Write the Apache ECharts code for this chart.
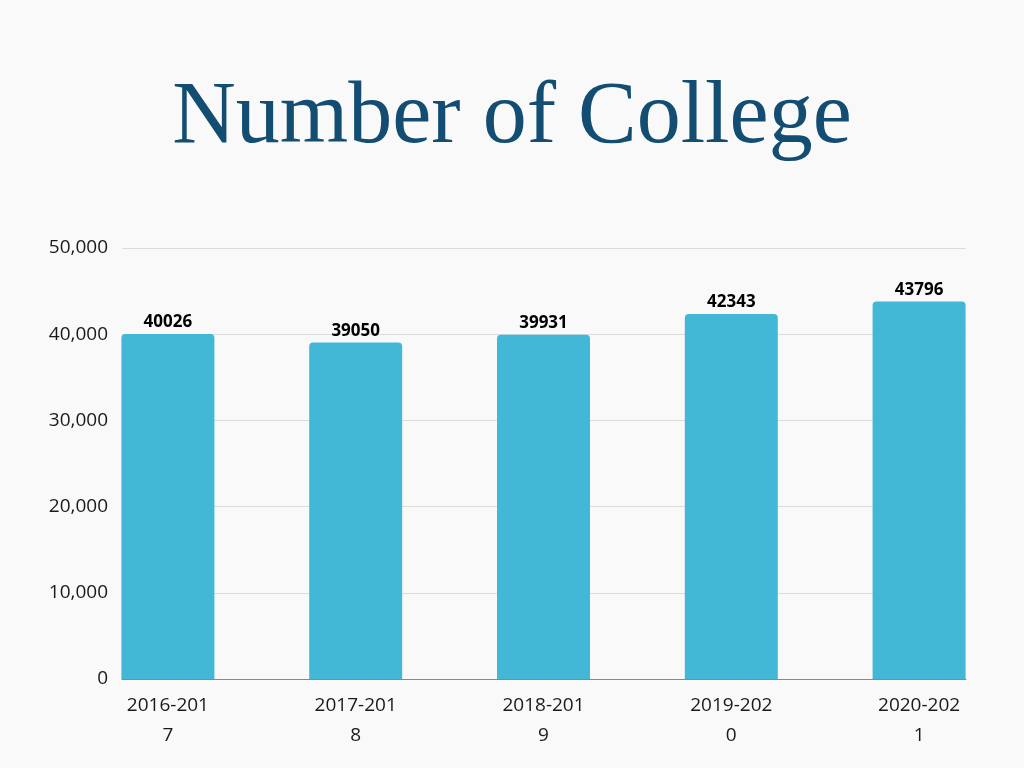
<!DOCTYPE html>
<html lang="en">
<head>
<meta charset="UTF-8">
<title>Number of College</title>
<style>
    html, body { margin: 0; padding: 0; background: #f9f9f9; }
    #app { width: 1024px; height: 768px; }
</style>
</head>
<body>
<div id="app"></div>
<script src="https://cdn.jsdelivr.net/npm/echarts@6/dist/echarts.min.js"></script>
<script>
var categories = ['2016-2017', '2017-2018', '2018-2019', '2019-2020', '2020-2021'];
var values = [40026, 39050, 39931, 42343, 43796];

var chart = echarts.init(document.getElementById('app'));
var option = {
    backgroundColor: '#f9f9f9',
    title: {
        text: 'Number of College',
        left: 'center',
        top: 70,
        textStyle: {
            fontFamily: 'Liberation Serif',
            fontWeight: 'normal',
            fontSize: 88,
            color: '#134d72'
        }
    },
    // grid 0: gridlines + y labels; grid 1: the bars (wider so bars touch the plot edges)
    grid: [
        { left: 122, right: 58, top: 248, bottom: 89 },
        { left: 74, right: 11, top: 248, bottom: 89 }
    ],
    xAxis: [{
        gridIndex: 0,
        type: 'category',
        data: categories,
        axisTick: { show: false },
        axisLabel: { show: false },
        axisLine: { lineStyle: { color: '#888' } }
    }, {
        gridIndex: 1,
        type: 'category',
        data: categories,
        axisTick: { show: false },
        axisLine: { show: false },
        axisLabel: {
            color: '#1a1a1a',
            fontFamily: 'Open Sans',
            fontSize: 19,
            lineHeight: 30,
            margin: 12,
            formatter: function (v) { return v.slice(0, 8) + '\n' + v.slice(8); }
        }
    }],
    yAxis: [{
        gridIndex: 0,
        type: 'value',
        min: 0,
        max: 50000,
        interval: 10000,
        axisLabel: {
            color: '#1a1a1a',
            fontFamily: 'Open Sans',
            fontSize: 19,
            margin: 14,
            formatter: function (v) { return v.toLocaleString('en-US'); }
        },
        splitLine: { lineStyle: { color: '#dcdcdc' } }
    }, {
        gridIndex: 1,
        type: 'value',
        min: 0,
        max: 50000,
        show: false
    }],
    series: [{
        type: 'bar',
        xAxisIndex: 1,
        yAxisIndex: 1,
        data: values,
        barWidth: 93,
        itemStyle: { color: '#42b8d6', borderRadius: [4, 4, 0, 0] },
        label: {
            show: true,
            position: 'top',
            distance: 3,
            color: '#000',
            fontFamily: 'Open Sans',
            fontWeight: 'bold',
            fontSize: 17
        }
    }]
};
chart.setOption(option);
</script>
</body>
</html>
